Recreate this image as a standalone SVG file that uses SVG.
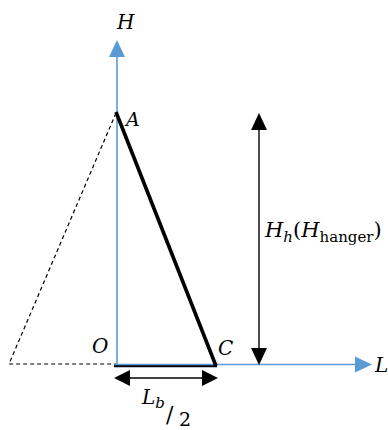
<svg xmlns="http://www.w3.org/2000/svg" width="388" height="430" viewBox="0 0 388 430">
<style>
.ax{stroke:#5B9BD5;stroke-width:1.6;fill:none}
.axh{fill:#5B9BD5}
.blk{fill:#000}
.dim{stroke:#000;stroke-width:1.4}
.t{font-family:"DejaVu Serif","Liberation Serif",serif;fill:#000}
.i{font-style:italic}
</style>
<rect width="388" height="430" fill="#fff"/>
<g id="connectors">
<path d="M116,113 L9,364 L116,364" fill="none" stroke="#000" stroke-width="1.2" stroke-dasharray="4,3"/>
<line x1="114" y1="366" x2="217" y2="366" stroke="#000" stroke-width="2.6"/>
<line class="ax" x1="117" y1="365" x2="117" y2="56"/>
<polygon class="axh" points="117,40 109,57 125,57"/>
<line class="ax" x1="114" y1="364.5" x2="356" y2="364.5"/>
<polygon class="axh" points="372,364.5 355,356.5 355,372.5"/>
<line x1="116" y1="112" x2="216" y2="366" stroke="#000" stroke-width="3.6"/>
<line class="dim" x1="128" y1="378" x2="204" y2="378"/>
<polygon class="blk" points="114,378 130,370 130,386"/>
<polygon class="blk" points="218,378 202,370 202,386"/>
<line class="dim" x1="259" y1="128" x2="259" y2="350"/>
<polygon class="blk" points="259,113 251,130 267,130"/>
<polygon class="blk" points="259,365 251,348 267,348"/>
</g>
<g id="axis-H"><text class="t i" x="117" y="29" font-size="20">H</text></g>
<g id="node-A"><text class="t i" x="126" y="126" font-size="19">A</text></g>
<g id="node-O"><text class="t i" x="92" y="353" font-size="20">O</text></g>
<g id="node-C"><text class="t i" x="218" y="355" font-size="20">C</text></g>
<g id="axis-L"><text class="t i" x="375" y="372" font-size="20">L</text></g>
<g id="label-Hh"><text class="t" x="265" y="237" font-size="21"><tspan class="i">H</tspan><tspan class="i" font-size="15" dy="5">h</tspan><tspan dy="-5">(</tspan><tspan class="i">H</tspan><tspan font-size="15" dy="5">hanger</tspan><tspan dy="-5">)</tspan></text></g>
<g id="label-Lb"><text class="t" x="142" y="404" font-size="20"><tspan class="i">L</tspan><tspan class="i" font-size="15" dy="4">b</tspan></text>
<text class="t" x="166" y="422" font-size="22">/</text>
<text class="t" x="179" y="426" font-size="19">2</text></g>
</svg>
